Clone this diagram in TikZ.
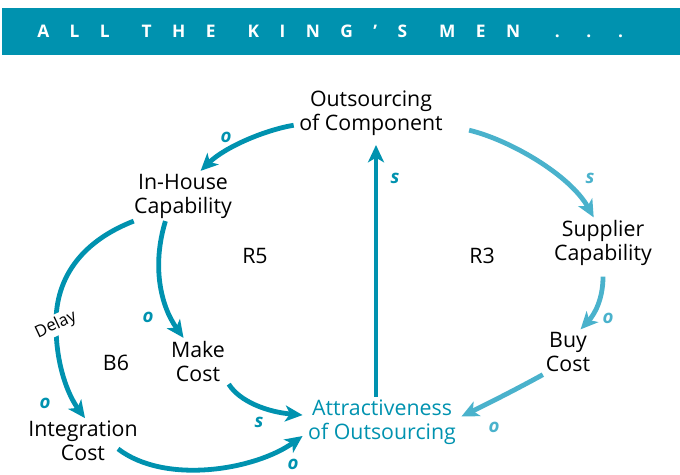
\documentclass[tikz,border=0pt]{standalone}
\usepackage{fontspec}
\setmainfont{Open Sans}
\newfontfamily\bannerfont[LetterSpace=118]{Open Sans}
\usetikzlibrary{arrows.meta,calc}
\definecolor{kingTeal}{RGB}{0,146,175}
\definecolor{kingSky}{RGB}{74,178,204}

\begin{document}
\begin{tikzpicture}[x=0.75pt,y=0.75pt,yscale=-1,xscale=1,
  var/.style={align=center,inner xsep=4pt,inner ysep=2pt,font=\fontsize{16}{18}\selectfont},
  loopid/.style={font=\fontsize{16}{18}\selectfont},
  polar/.style={text=kingTeal,inner sep=1pt,font=\fontsize{14}{14}\selectfont\bfseries\itshape},
  polarsky/.style={polar,text=kingSky},
  delaytag/.style={fill=white,rotate=25,inner sep=1.5pt,font=\fontsize{12.5}{12.5}\selectfont},
  link/.style={draw=kingTeal,line width=3.6pt,-{Stealth[length=13pt,width=12pt,inset=3.5pt]}},
  linksky/.style={link,draw=kingSky},
]
\useasboundingbox (0,0) rectangle (680,474);

%Shape: Rectangle [banner]
\fill [kingTeal] (2,8) rectangle (680,55);
% Text Node
\node [anchor=west,inner sep=0,text=white,font=\bannerfont\fontsize{13}{13}\selectfont\bfseries] (title) at (37,31) {ALL\hspace{24pt}THE\hspace{24pt}KING’S\hspace{24pt}MEN\hspace{26pt}.\hspace{20pt}.\hspace{20pt}.};

% Text Node
\node [var] (outsrc) at (371,113) {Outsourcing\\of Component};
% Text Node
\node [var] (inhouse) at (183,196) {In-House\\Capability};
% Text Node
\node [var] (supplier) at (603,243) {Supplier\\Capability};
% Text Node
\node [var] (makecost) at (198,361) {Make\\Cost};
% Text Node
\node [var] (buycost) at (568,352) {Buy\\Cost};
% Text Node
\node [var] (integ) at (83,441) {Integration\\Cost};
% Text Node
\node [var,text=kingTeal] (attract) at (382,422) {Attractiveness\\of Outsourcing};

% Loop names
\node [loopid] (r5) at (255,256) {R5};
\node [loopid] (r3) at (482,256) {R3};
\node [loopid] (b6) at (116,363) {B6};

%Curve Lines
\draw [link] (outsrc.189) .. controls (265,130) and (225,147) .. (inhouse.55);
%Straight Lines
\draw [link,shorten >=5pt] ([xshift=-4.5pt]attract.north) -- ([xshift=3.75pt]outsrc.south);
%Curve Lines
\draw [linksky,shorten <=16pt] (outsrc.351) .. controls (510,140) and (570,175) .. (supplier.110);
%Curve Lines
\draw [linksky,shorten <=6pt] (supplier.south) .. controls (603,300) and (594,315) .. (buycost.61);
%Curve Lines
\draw [linksky] (buycost.222) .. controls (515,390) and (485,405) .. (attract.4);
%Curve Lines
\draw [link] (inhouse.235) .. controls (152,265) and (160,305) .. (makecost.122);
%Curve Lines
\draw [link] (makecost.323) .. controls (240,402) and (268,412) .. (attract.175);
%Curve Lines
\draw [link] (inhouse.207) .. controls (85,240) and (55,275) .. (56,325) node [delaytag] (delay) {Delay} .. controls (56,365) and (68,395) .. (integ.85);
%Curve Lines
\draw [link] ($(integ.south)+(35,-15)$) .. controls (165,485) and (255,470) .. (attract.190);

% Polarity labels
\node [polar] (p1) at (226,137) {o};
\node [polar] (p2) at (395,178) {s};
\node [polarsky] (p3) at (590,178) {s};
\node [polarsky] (p4) at (608,318) {o};
\node [polarsky] (p5) at (494,427) {o};
\node [polar] (p6) at (148,317) {o};
\node [polar] (p7) at (259,422) {s};
\node [polar] (p8) at (45,403) {o};
\node [polar] (p9) at (293,464) {o};

\end{tikzpicture}
\end{document}
